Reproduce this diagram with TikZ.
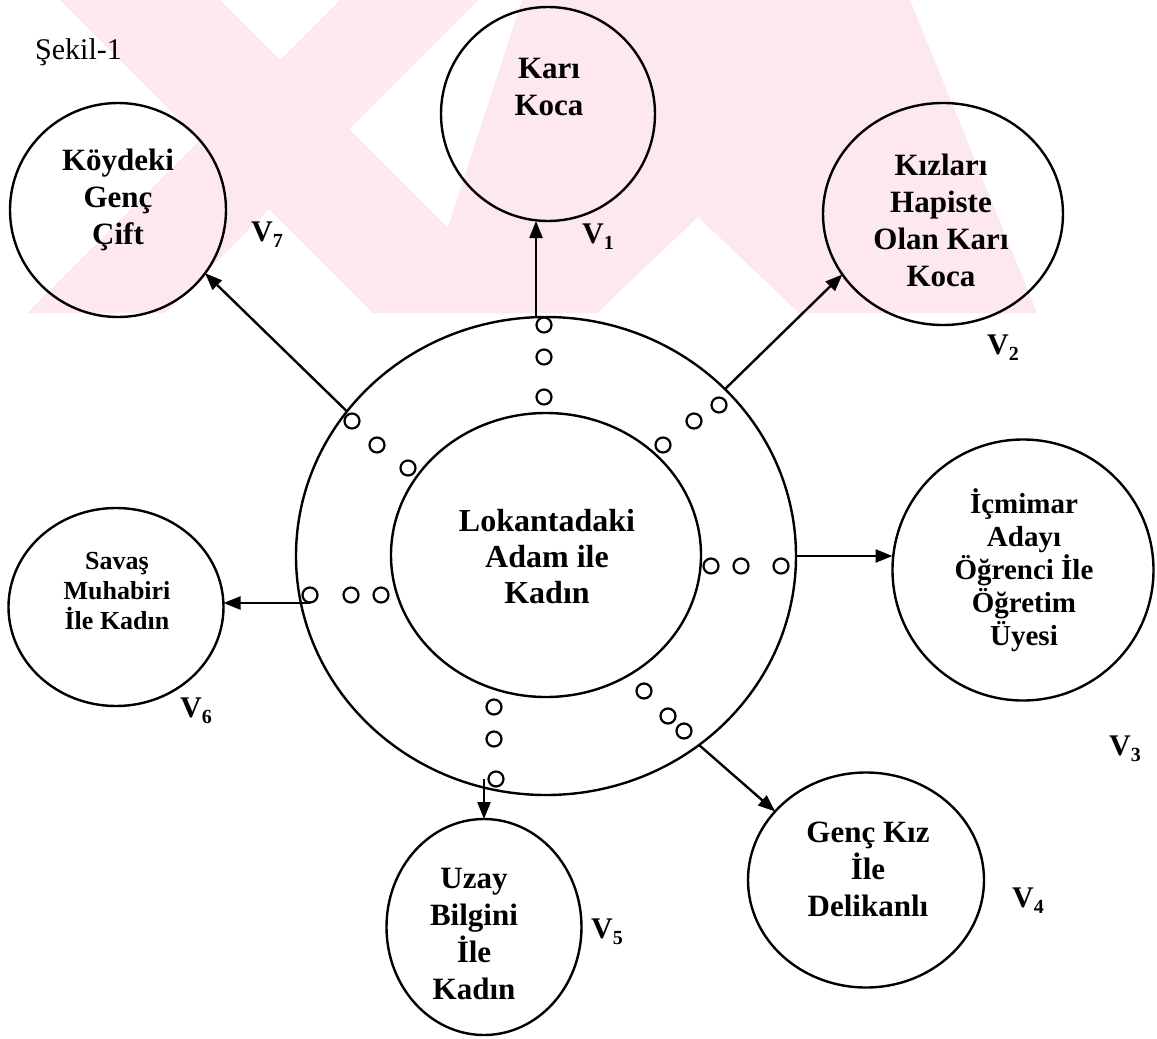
\documentclass[tikz,border=0pt]{standalone}
\usepackage{fontspec}
\setmainfont{Liberation Serif}
\usetikzlibrary{shapes.geometric,arrows.meta}
\definecolor{wm}{RGB}{252,232,237}
\begin{document}
\begin{tikzpicture}[x=1pt,y=-1pt,
  ring/.style={draw,ellipse,line width=2.4pt,inner sep=0pt,outer sep=0pt},
  dot/.style={draw,circle,line width=2.2pt,minimum size=15pt,inner sep=0pt,outer sep=0pt},
  lbl/.style={font=\fontsize{31}{37}\selectfont\bfseries,align=center,inner sep=0pt},
  small/.style={font=\fontsize{26}{30}\selectfont\bfseries,align=center,inner sep=0pt},
  mid/.style={font=\fontsize{29}{33}\selectfont\bfseries,align=center,inner sep=0pt},
  vl/.style={font=\fontsize{30}{30}\selectfont\bfseries,inner sep=0pt},
  arr/.style={line width=2.4pt,-{Triangle[length=17pt,width=13pt]}}]
\useasboundingbox (0,0) rectangle (1157,1039);
% watermark
\begin{scope}
\clip (0,0) rectangle (1157,313);
\fill[wm] (60,0) -- (220,0) -- (533,313) -- (373,313) -- cycle;
\fill[wm] (340,0) -- (478,0) -- (165,313) -- (27,313) -- cycle;
\fill[wm] (522,0) -- (746,0) -- (698,217) -- (597,313) -- (420,313) -- cycle;
\fill[wm] (746,0) -- (813,0) -- (910,0) -- (1037,313) -- (799,313) -- (698,217) -- cycle;
\end{scope}
% title
\node[anchor=west,font=\fontsize{30}{30}\selectfont,inner sep=0pt] (title) at (35,52) {Şekil-1};
% rings
\node[ring,minimum width=500pt,minimum height=478pt] (outer) at (546,556) {};
\node[ring,minimum width=310pt,minimum height=284pt] (inner) at (546,555) {};
\node[lbl,font=\fontsize{32}{36}\selectfont\bfseries] (tin) at (547,557) {Lokantadaki\\Adam ile\\Kadın};
% outer nodes
\node[ring,minimum width=214pt,minimum height=214pt] (kari) at (548,114) {};
\node[lbl] (tkari) at (549,87) {Karı\\Koca};
\node[ring,minimum width=240pt,minimum height=222pt] (kiz) at (943,214) {};
\node[lbl] (tkiz) at (941,220) {Kızları\\Hapiste\\Olan Karı\\Koca};
\node[ring,minimum width=261pt,minimum height=261pt] (ic) at (1023,570) {};
\node[mid] (tic) at (1024,570) {İçmimar\\Adayı\\Öğrenci İle\\Öğretim\\Üyesi};
\node[ring,minimum width=236pt,minimum height=215pt] (genc) at (866,880) {};
\node[lbl] (tgenc) at (868,869) {Genç Kız\\İle\\Delikanlı};
\node[ring,minimum width=195pt,minimum height=216pt] (uzay) at (484,927) {};
\node[lbl] (tuzay) at (474,934) {Uzay\\Bilgini\\İle\\Kadın};
\node[ring,minimum width=215pt,minimum height=198pt] (savas) at (116,607) {};
\node[small] (tsavas) at (117,591) {Savaş\\Muhabiri\\İle Kadın};
\node[ring,minimum width=216pt,minimum height=214pt] (koy) at (118,210) {};
\node[lbl] (tkoy) at (118,200) {Köydeki\\Genç\\Çift};
% V labels
\node[vl] (v1) at (598,237) {V\raisebox{-6pt}{\fontsize{20}{20}\selectfont 1}};
\node[vl] (v2) at (1003,348) {V\raisebox{-6pt}{\fontsize{20}{20}\selectfont 2}};
\node[vl] (v3) at (1125,749) {V\raisebox{-6pt}{\fontsize{20}{20}\selectfont 3}};
\node[vl] (v4) at (1028,901) {V\raisebox{-6pt}{\fontsize{20}{20}\selectfont 4}};
\node[vl] (v5) at (607,932) {V\raisebox{-6pt}{\fontsize{20}{20}\selectfont 5}};
\node[vl] (v6) at (196,711) {V\raisebox{-6pt}{\fontsize{20}{20}\selectfont 6}};
\node[vl] (v7) at (267,235) {V\raisebox{-6pt}{\fontsize{20}{20}\selectfont 7}};
% small circles
\node[dot] (a1) at (544,325) {};
\node[dot] (a2) at (544,357) {};
\node[dot] (a3) at (544,397) {};
\node[dot] (b1) at (719,405) {};
\node[dot] (b2) at (694,421) {};
\node[dot] (b3) at (663,445) {};
\node[dot] (c1) at (711,566) {};
\node[dot] (c2) at (741,566) {};
\node[dot] (c3) at (781,566) {};
\node[dot] (d1) at (644,691) {};
\node[dot] (d2) at (668,716) {};
\node[dot] (d3) at (684,731) {};
\node[dot] (e1) at (494,707) {};
\node[dot] (e2) at (494,739) {};
\node[dot] (e3) at (496,779) {};
\node[dot] (f1) at (310,595) {};
\node[dot] (f2) at (351,595) {};
\node[dot] (f3) at (381,595) {};
\node[dot] (g1) at (352,421) {};
\node[dot] (g2) at (377,445) {};
\node[dot] (g3) at (408,468) {};
% connectors
\coordinate (s1) at (536,318);
\draw[arr] (s1) -- (s1 |- kari.south);
\draw[arr] (outer.43) -- (kiz.211);
\draw[arr] (outer.east) -- (outer.east -| ic.west);
\draw[arr] (outer.-51) -- (genc.143);
\draw[arr] (e3.center -| uzay.north) -- (uzay.north);
\coordinate (s6) at (310,603);
\draw[arr] (s6) -- (s6 -| savas.east);
\draw[arr] (outer.144) -- (koy.-36);
\end{tikzpicture}
\end{document}
